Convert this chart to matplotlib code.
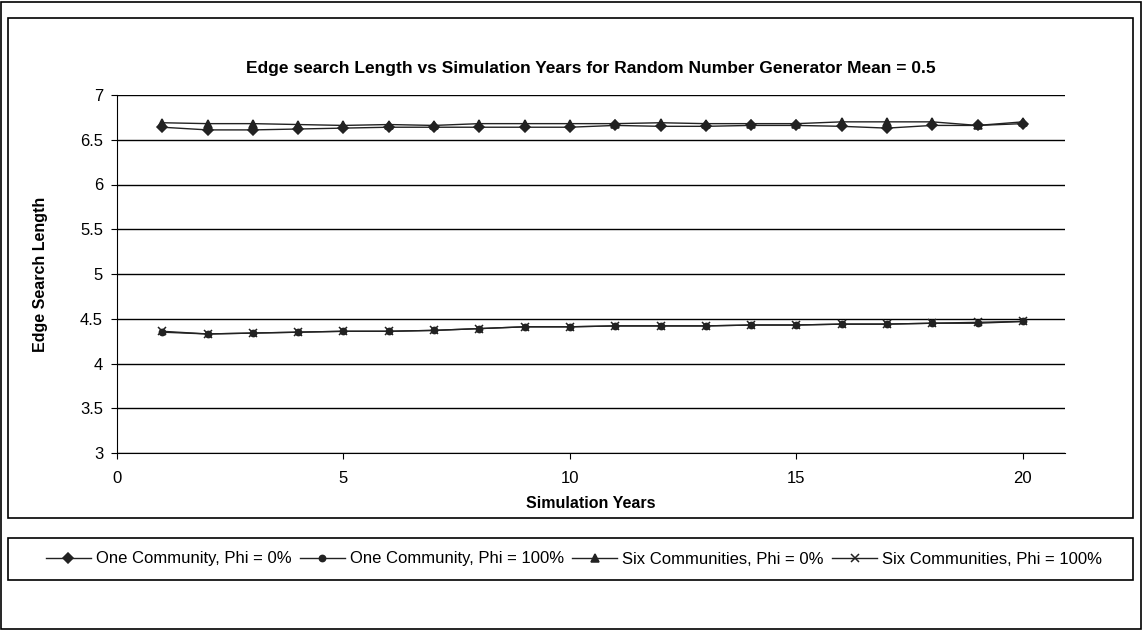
import numpy as np
import matplotlib.pyplot as plt
from matplotlib.patches import Rectangle

plt.rcParams['font.family'] = ['Liberation Sans', 'DejaVu Sans']

years = list(range(1, 21))
one_phi0 = [6.64, 6.61, 6.61, 6.62, 6.63, 6.64, 6.64, 6.64, 6.64, 6.64,
            6.66, 6.65, 6.65, 6.66, 6.66, 6.65, 6.63, 6.66, 6.66, 6.68]
one_phi100 = [4.35, 4.33, 4.34, 4.35, 4.36, 4.36, 4.37, 4.39, 4.41, 4.41,
              4.42, 4.42, 4.42, 4.43, 4.43, 4.44, 4.44, 4.45, 4.45, 4.47]
six_phi0 = [6.69, 6.68, 6.68, 6.67, 6.66, 6.67, 6.66, 6.68, 6.68, 6.68,
            6.68, 6.69, 6.68, 6.68, 6.68, 6.70, 6.70, 6.70, 6.66, 6.70]
six_phi100 = [4.36, 4.33, 4.34, 4.35, 4.36, 4.36, 4.37, 4.39, 4.41, 4.41,
              4.42, 4.42, 4.42, 4.43, 4.43, 4.44, 4.44, 4.45, 4.46, 4.47]
labels = ["One Community, Phi = 0%", "One Community, Phi = 100%",
          "Six Communities, Phi = 0%", "Six Communities, Phi = 100%"]

W, H = 1143, 630
fig = plt.figure(figsize=(W / 100, H / 100), dpi=100)
ax = fig.add_axes([117 / W, 1 - 453 / H, (1065 - 117) / W, (453 - 95) / H])

# outer frame, chart box, legend box
fig.add_artist(Rectangle((1 / W, 1 / H), (W - 3) / W, (H - 3) / H, transform=fig.transFigure,
                         fill=False, lw=1.2, ec='black'))
fig.add_artist(Rectangle((8 / W, 1 - 518 / H), (1133 - 8) / W, (518 - 18) / H,
                         transform=fig.transFigure, fill=False, lw=1.2, ec='black'))
fig.add_artist(Rectangle((8 / W, 1 - 580 / H), (1133 - 8) / W, (580 - 538) / H,
                         transform=fig.transFigure, fill=False, lw=1.2, ec='black'))

series = [(one_phi0, 'D', 5), (one_phi100, 'o', 4.5), (six_phi0, '^', 6), (six_phi100, 'x', 6)]
for vals, mk, ms in series:
    ax.plot(years, vals, color='#222222', lw=1.0, marker=mk, ms=ms, mfc='#222222',
            mec='#222222', mew=1.1)

ax.set_xlim(0, 20.93)
ax.set_ylim(3, 7)
ax.set_xticks([0, 5, 10, 15, 20])
ax.set_yticks(np.arange(3, 7.01, 0.5))
ax.set_yticklabels(['3', '3.5', '4', '4.5', '5', '5.5', '6', '6.5', '7'])
ax.grid(axis='y', color='black', lw=1.0)
ax.set_axisbelow(True)
for s in ['top', 'right']:
    ax.spines[s].set_visible(False)
ax.tick_params(direction='out', length=4, labelsize=12, pad=6)
ax.tick_params(axis='x', pad=9)

ax.set_title("Edge search Length vs Simulation Years for Random Number Generator Mean = 0.5",
             fontsize=12.5, fontweight='bold', pad=16)
ax.set_xlabel("Simulation Years", fontsize=11.5, fontweight='bold', labelpad=7)
ax.set_ylabel("Edge Search Length", fontsize=11.5, fontweight='bold', labelpad=23)

fig.legend(ax.get_lines(), labels, loc='center', bbox_to_anchor=(574 / W, 1 - 559 / H),
           ncol=4, frameon=False, fontsize=12, handlelength=2.7, columnspacing=0.5,
           handletextpad=0.3)

fig.savefig('out.png', dpi=100)
